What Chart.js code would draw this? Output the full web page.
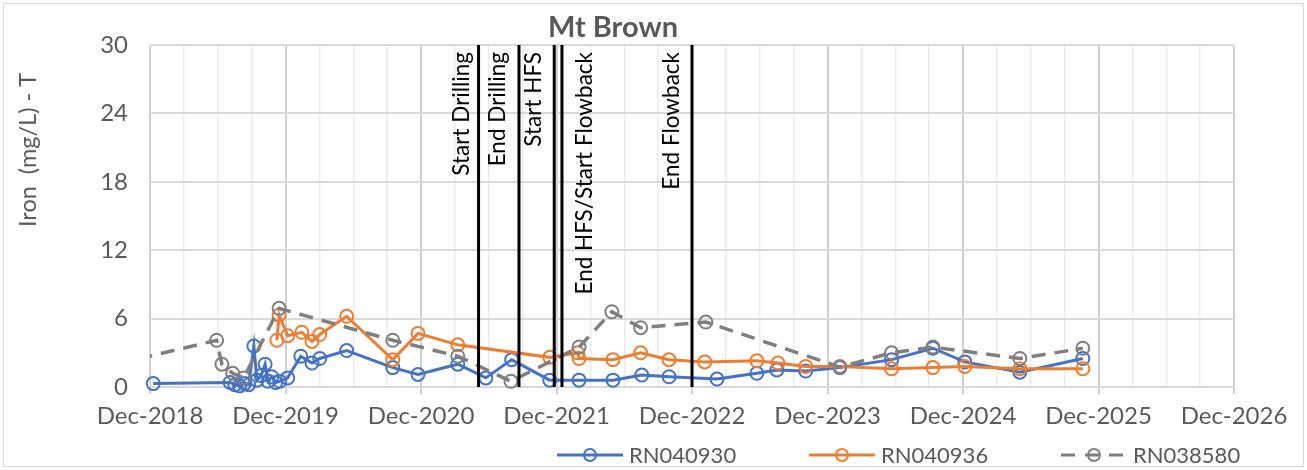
<!DOCTYPE html>
<html lang="en">
<head>
<meta charset="UTF-8">
<title>Mt Brown - Iron (mg/L) - T</title>
<script src="https://cdn.jsdelivr.net/npm/chart.js"></script>
<style>
  html, body { margin: 0; padding: 0; background: #fff; }
  .chart-box { position: relative; width: 1307px; height: 470px; }
</style>
</head>
<body>
<div class="chart-box"><canvas id="ironChart"></canvas></div>
<script>
// datos (fechas de muestreo y valores en mg/L)
const blueDates = ['2018-12-10', '2019-07-04', '2019-07-17', '2019-07-30', '2019-08-13', '2019-08-24',
  '2019-09-07', '2019-09-15', '2019-09-26', '2019-10-07', '2019-10-15', '2019-10-25', '2019-11-05',
  '2019-11-16', '2019-12-07', '2020-01-12', '2020-02-11', '2020-03-02', '2020-05-14', '2020-09-16',
  '2020-11-23', '2021-03-09', '2021-05-24', '2021-08-02', '2021-11-13', '2022-02-01', '2022-05-01',
  '2022-07-18', '2022-09-30', '2023-02-07', '2023-05-24', '2023-07-17', '2023-10-03', '2024-01-04',
  '2024-05-22', '2024-09-11', '2024-12-06', '2025-05-02', '2025-10-20'];
const blueValues = [0.3, 0.4, 0.2, 0.1, 0.3, 0.2,
  3.6, 0.6, 1.0, 2.0, 0.5, 0.9, 0.4,
  0.5, 0.8, 2.7, 2.1, 2.5, 3.2, 1.7,
  1.1, 2.0, 0.8, 2.4, 0.6, 0.6, 0.6,
  1.05, 0.9, 0.7, 1.2, 1.5, 1.4, 1.7,
  2.4, 3.4, 2.2, 1.3, 2.5];

const orangeDates = ['2019-11-08', '2019-11-14', '2019-12-07', '2020-01-15', '2020-02-11', '2020-03-02',
  '2020-05-14', '2020-09-16', '2020-11-23', '2021-03-09', '2021-11-13', '2022-01-28', '2022-02-01',
  '2022-05-01', '2022-07-15', '2022-09-30', '2023-01-05', '2023-05-24', '2023-07-20', '2023-10-03',
  '2024-01-04', '2024-05-22', '2024-09-11', '2024-12-06', '2025-05-02', '2025-10-20'];
const orangeValues = [4.1, 6.3, 4.5, 4.8, 4.0, 4.6,
  6.2, 2.4, 4.7, 3.7, 2.6, 3.0, 2.5,
  2.4, 3.0, 2.4, 2.2, 2.3, 2.1, 1.8,
  1.8, 1.6, 1.7, 1.8, 1.6, 1.6];

const grayDates = ['2018-09-01', '2019-05-29', '2019-06-12', '2019-07-11', '2019-08-10', '2019-11-14',
  '2020-09-16', '2021-03-09', '2021-07-31', '2022-02-01', '2022-04-28', '2022-07-15', '2023-01-08',
  '2024-01-04', '2024-05-22', '2024-09-11', '2025-05-02', '2025-10-20'];
const grayValues = [2.0, 4.1, 2.0, 1.2, 0.8, 6.9,
  4.1, 2.7, 0.5, 3.5, 6.6, 5.2, 5.7,
  1.75, 3.0, 3.5, 2.5, 3.4];

const seriesNames = ['RN040930', 'RN040936', 'RN038580'];

// eventos del proyecto (lineas verticales)
const eventDates = ['2021-05-04', '2021-08-22', '2021-11-25', '2021-12-16', '2022-12-01'];
const eventLabels = ['Start Drilling', 'End Drilling', 'Start HFS', 'End HFS/Start Flowback', 'End Flowback'];

const xTickLabels = ['Dec-2018', 'Dec-2019', 'Dec-2020', 'Dec-2021', 'Dec-2022', 'Dec-2023', 'Dec-2024', 'Dec-2025', 'Dec-2026'];
const yTickValues = [0, 6, 12, 18, 24, 30];

// meses desde 1-Dic-2018
function toMonths(s) {
  const [y, m, d] = s.split('-').map(Number);
  const days = new Date(y, m, 0).getDate();
  return (y - 2018) * 12 + (m - 12) + (d - 1) / days;
}
function toPoints(dates, values) {
  return dates.map((d, i) => ({ x: toMonths(d), y: values[i] }));
}

const BLUE = '#4472C4';
const ORANGE = '#ED7D31';
const GRAY = '#7F7F7F';
const TEXT = '#595959';
const FONT = 'Lato, "Noto Sans", sans-serif';

Chart.defaults.font.family = FONT;
Chart.defaults.color = TEXT;

// lado de la etiqueta respecto a cada linea de evento (px)
const eventLabelShift = [-17, -21, -20, 23, -20];

const overlay = {
  id: 'overlay',
  beforeDraw(chart) {
    const ctx = chart.ctx;
    ctx.save();
    ctx.strokeStyle = '#d9d9d9';
    ctx.lineWidth = 1;
    ctx.strokeRect(3.5, 3.5, chart.width - 7, chart.height - 7);
    ctx.restore();
  },
  afterDatasetsDraw(chart) {
    const { ctx, chartArea, scales } = chart;
    ctx.save();
    ctx.strokeStyle = '#000';
    ctx.lineWidth = 3;
    ctx.fillStyle = '#000';
    ctx.font = '22.5px ' + FONT;
    eventDates.forEach((d, i) => {
      const x = scales.x.getPixelForValue(toMonths(d));
      ctx.beginPath();
      ctx.moveTo(x, chartArea.top);
      ctx.lineTo(x, chartArea.bottom);
      ctx.stroke();
      ctx.save();
      ctx.translate(x + eventLabelShift[i], chartArea.top + 7);
      ctx.rotate(-Math.PI / 2);
      ctx.textAlign = 'right';
      ctx.textBaseline = 'middle';
      ctx.fillText(eventLabels[i], 0, 0);
      ctx.restore();
    });
    ctx.restore();
  },
  afterDraw(chart) {
    const ctx = chart.ctx;
    ctx.save();
    // titulo
    ctx.fillStyle = TEXT;
    ctx.font = 'bold 29px ' + FONT;
    ctx.textAlign = 'center';
    ctx.textBaseline = 'middle';
    ctx.fillText('Mt Brown', 613, 28);
    // titulo eje y
    ctx.save();
    ctx.translate(28, 150);
    ctx.rotate(-Math.PI / 2);
    ctx.font = '23.5px ' + FONT;
    ctx.fillText('Iron  (mg/L) - T', 0, 0);
    ctx.restore();
    // leyenda
    const colors = [BLUE, ORANGE, GRAY];
    const starts = [557, 809, 1061];
    const ly = 455;
    ctx.font = '22px ' + FONT;
    ctx.textAlign = 'left';
    seriesNames.forEach((name, i) => {
      const x0 = starts[i];
      ctx.strokeStyle = colors[i];
      ctx.lineWidth = 3;
      ctx.setLineDash(i === 2 ? [14, 10] : []);
      ctx.beginPath();
      ctx.moveTo(x0, ly);
      ctx.lineTo(x0 + 66, ly);
      ctx.stroke();
      ctx.setLineDash([]);
      ctx.lineWidth = 2;
      ctx.beginPath();
      ctx.arc(x0 + 33, ly, 6, 0, Math.PI * 2);
      ctx.stroke();
      ctx.fillStyle = TEXT;
      ctx.fillText(name, x0 + 72, ly + 1);
    });
    ctx.restore();
  }
};

function series(label, color, dates, values, extra) {
  return Object.assign({
    label: label,
    data: toPoints(dates, values),
    borderColor: color,
    borderWidth: 3,
    pointStyle: 'circle',
    pointRadius: 6.5,
    pointHoverRadius: 6.5,
    pointBorderWidth: 2,
    pointBorderColor: color,
    pointBackgroundColor: 'rgba(0,0,0,0)',
    tension: 0,
    clip: { left: 10, top: 10, right: 0, bottom: 10 }
  }, extra || {});
}

const ctx = document.getElementById('ironChart').getContext('2d');
const ironChart = new Chart(ctx, {
  type: 'line',
  data: {
    datasets: [
      series(seriesNames[0], BLUE, blueDates, blueValues, { order: 3 }),
      series(seriesNames[1], ORANGE, orangeDates, orangeValues, { order: 2 }),
      series(seriesNames[2], GRAY, grayDates, grayValues, {
        order: 1,
        borderDash: [14, 9],
        borderWidth: 3.5,
        clip: { left: 0, top: 10, right: 0, bottom: 10 }
      })
    ]
  },
  options: {
    responsive: true,
    maintainAspectRatio: false,
    animation: false,
    layout: { padding: { top: 45, right: 73, bottom: 0, left: 0 } },
    plugins: {
      legend: { display: false },
      title: { display: false },
      tooltip: { enabled: false }
    },
    scales: {
      x: {
        type: 'linear',
        min: 0,
        max: 96,
        afterFit(scale) { scale.height = 83; },
        afterBuildTicks(scale) {
          const t = [];
          for (let v = 0; v <= 96; v += 3) t.push({ value: v });
          scale.ticks = t;
        },
        border: { display: false },
        grid: {
          color: c => (c.tick && c.tick.value % 12 === 0) ? '#d0d0d0' : '#ebebeb',
          lineWidth: c => (c.tick && c.tick.value % 12 === 0) ? 2 : 1.5,
          tickColor: c => (c.tick && c.tick.value % 12 === 0) ? '#d0d0d0' : 'rgba(0,0,0,0)',
          tickLength: 7
        },
        ticks: {
          autoSkip: false,
          maxRotation: 0,
          padding: 8,
          font: { size: 24 },
          color: TEXT,
          callback: v => (v % 12 === 0) ? xTickLabels[v / 12] : ''
        }
      },
      y: {
        min: 0,
        max: 30,
        afterFit(scale) { scale.width = 150; },
        afterBuildTicks(scale) { scale.ticks = yTickValues.map(v => ({ value: v })); },
        border: { display: false },
        grid: { color: '#d9d9d9', lineWidth: 2, drawTicks: false },
        ticks: { padding: 22, font: { size: 24 }, color: TEXT }
      }
    }
  },
  plugins: [overlay]
});
</script>
</body>
</html>
